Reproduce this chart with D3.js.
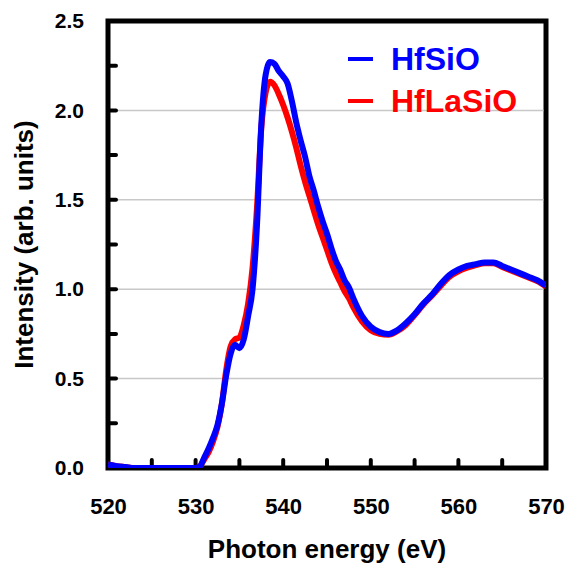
<!DOCTYPE html>
<html>
<head>
<meta charset="utf-8">
<script src="https://cdn.jsdelivr.net/npm/d3@7"></script>
<style>
  body { margin: 0; background: #fff; }
  text { font-family: "Liberation Sans", Arial, sans-serif; font-weight: bold; }
</style>
</head>
<body>
<svg id="chart" width="575" height="565"></svg>
<script>
// photon energy (eV)
const energy = [520, 521, 522, 523, 524, 525, 526, 527, 528, 529, 530, 530.5, 531, 531.5, 532, 532.5,
  533, 533.5, 534, 534.5, 535, 535.5, 536, 536.5, 537, 537.5, 538, 538.5, 539, 539.5, 540, 540.5,
  541, 541.5, 542, 542.5, 543, 543.5, 544, 544.5, 545, 545.5, 546, 546.5, 547, 547.5, 548,
  549, 550, 551, 552, 553, 554, 555, 556, 557, 558, 559, 560, 561, 562, 563, 564, 565, 566, 567, 568, 569, 570];

const hfsio = [0.02, 0.01, 0.005, 0, 0, 0, 0, 0, 0, 0, 0, 0.01, 0.06, 0.11, 0.17, 0.24,
  0.36, 0.52, 0.64, 0.69, 0.67, 0.72, 0.85, 1.0, 1.35, 1.92, 2.2, 2.27, 2.26, 2.22, 2.19, 2.15,
  2.05, 1.93, 1.83, 1.74, 1.63, 1.55, 1.46, 1.38, 1.31, 1.23, 1.16, 1.11, 1.05, 1.01, 0.95,
  0.85, 0.79, 0.76, 0.75, 0.77, 0.81, 0.86, 0.92, 0.97, 1.03, 1.08, 1.11, 1.13, 1.14, 1.15, 1.15, 1.13, 1.11, 1.09, 1.07, 1.05, 1.02];

const hflasio = [0.02, 0.01, 0.005, 0, 0, 0, 0, 0, 0, 0, 0, 0.01, 0.05, 0.09, 0.15, 0.23,
  0.36, 0.55, 0.68, 0.72, 0.73, 0.8, 0.92, 1.12, 1.45, 1.9, 2.1, 2.16, 2.14, 2.09, 2.03, 1.96,
  1.88, 1.79, 1.69, 1.6, 1.52, 1.44, 1.36, 1.29, 1.22, 1.15, 1.09, 1.04, 0.99, 0.95, 0.9,
  0.82, 0.77, 0.75, 0.745, 0.765, 0.8, 0.855, 0.915, 0.965, 1.02, 1.07, 1.1, 1.12, 1.135, 1.145, 1.145, 1.125, 1.105, 1.085, 1.065, 1.045, 1.015];

const xTickValues = [520, 530, 540, 550, 560, 570];
const yTickValues = [0, 0.5, 1.0, 1.5, 2.0, 2.5];

const margin = {top: 21, right: 29, bottom: 97, left: 108};
const width = 575 - margin.left - margin.right;
const height = 565 - margin.top - margin.bottom;

const x = d3.scaleLinear().domain([520, 570]).range([0, width]);
const y = d3.scaleLinear().domain([0, 2.5]).range([height, 0]);

const svg = d3.select('#chart');

// plot box: black border rectangle with a white plot area on top
const bw = 5;
svg.append('rect')
  .attr('x', margin.left - bw / 2).attr('y', margin.top - bw / 2)
  .attr('width', width + bw).attr('height', height + bw)
  .style('fill', 'black');
svg.append('rect')
  .attr('x', margin.left + bw / 2).attr('y', margin.top + bw / 2)
  .attr('width', width - bw).attr('height', height - bw)
  .style('fill', 'white');

const chart = svg.append('g')
  .attr('transform', `translate(${margin.left}, ${margin.top})`);

// gridlines
chart.append('g')
  .selectAll('line')
  .data(yTickValues.slice(1, -1))
  .enter().append('line')
    .attr('x1', bw / 2).attr('x2', width - bw / 2)
    .attr('y1', d => y(d)).attr('y2', d => y(d))
    .attr('stroke', '#c8c8c8')
    .attr('stroke-width', 1.5);

// tick labels via axes
const xAxis = d3.axisBottom(x).tickValues(xTickValues).tickSize(0).tickPadding(30).tickFormat(d3.format('d'));
const yAxis = d3.axisLeft(y).tickValues(yTickValues).tickSize(0).tickPadding(24).tickFormat(d3.format('.1f'));

const gx = chart.append('g')
  .attr('transform', `translate(0, ${height})`)
  .call(xAxis);
gx.select('.domain').remove();
gx.selectAll('text').style('font-size', '22px').style('fill', '#000');

const gy = chart.append('g').call(yAxis);
gy.select('.domain').remove();
gy.selectAll('text').style('font-size', '21px').style('fill', '#000');

// inward ticks
const ticks = chart.append('g');
ticks.selectAll('line.ytick')
  .data(d3.range(0.25, 2.5, 0.25))
  .enter().append('line')
    .attr('class', 'ytick')
    .attr('x1', 0).attr('x2', 8)
    .attr('y1', d => y(d)).attr('y2', d => y(d))
    .attr('stroke', '#000').attr('stroke-width', 4).attr('stroke-linecap', 'round');

ticks.selectAll('line.xtick')
  .data(d3.range(525, 570, 5))
  .enter().append('line')
    .attr('class', 'xtick')
    .attr('x1', d => x(d)).attr('x2', d => x(d))
    .attr('y1', height).attr('y2', height - 8)
    .attr('stroke', '#000').attr('stroke-width', 4).attr('stroke-linecap', 'round');

// curves
chart.append('clipPath').attr('id', 'clip')
  .append('rect').attr('width', width).attr('height', height);

const line = d3.line()
  .x(d => x(d[0]))
  .y(d => y(d[1]))
  .curve(d3.curveMonotoneX);

const series = [
  {name: 'HfLaSiO', values: hflasio, color: '#ff0000'},
  {name: 'HfSiO', values: hfsio, color: '#0000ff'}
];

series.forEach(s => {
  chart.append('path')
    .datum(energy.map((e, i) => [e, s.values[i]]))
    .attr('clip-path', 'url(#clip)')
    .attr('fill', 'none')
    .attr('stroke', s.color)
    .attr('stroke-width', 6)
    .attr('stroke-linejoin', 'round')
    .attr('d', line);
});

// legend
const legend = chart.append('g').attr('transform', 'translate(240, 38)');
[series[1], series[0]].forEach((s, i) => {
  legend.append('line')
    .attr('x1', 0).attr('x2', 25)
    .attr('y1', i * 42).attr('y2', i * 42)
    .attr('stroke', s.color).attr('stroke-width', 4);
  legend.append('text')
    .attr('x', 43).attr('y', i * 42 + 11)
    .style('font-size', '32px')
    .style('fill', s.color)
    .text(s.name);
});

// axis titles
svg.append('text')
  .attr('x', margin.left + width / 2).attr('y', 558)
  .attr('text-anchor', 'middle')
  .style('font-size', '26px')
  .text('Photon energy (eV)');

svg.append('text')
  .attr('transform', `translate(33, ${margin.top + height / 2}) rotate(-90)`)
  .attr('text-anchor', 'middle')
  .style('font-size', '26px')
  .text('Intensity (arb. units)');
</script>
</body>
</html>
